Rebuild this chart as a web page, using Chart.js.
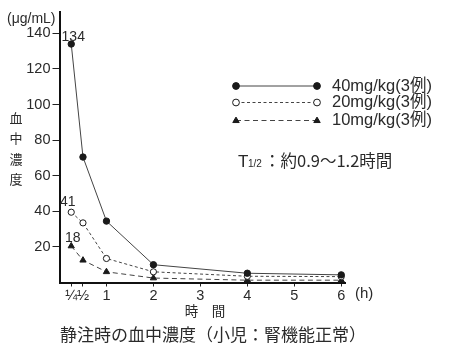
<!DOCTYPE html>
<html><head><meta charset="utf-8">
<script src="https://cdn.jsdelivr.net/npm/chart.js@4/dist/chart.umd.min.js"></script>
<style>html,body{margin:0;padding:0;background:#fff}#wrap{width:450px;height:356px;position:relative}</style>
</head><body><div id="wrap"><canvas id="c" width="450" height="356"></canvas></div>
<script>
const times = [0.25, 0.5, 1, 2, 4, 6];
const conc40 = [134, 70.5, 34.5, 10, 5.2, 4.3];
const conc20 = [39.5, 33.5, 13.5, 6, 3.5, 3.3];
const conc10 = [20.5, 12.5, 6, 2.5, 1.3, 1.3];
const xTickValues = [0.25, 0.5, 1, 2, 3, 4, 5, 6];
const xTickLabels = ['¼', '½', '1', '2', '3', '4', '5', '6'];
const yTickValues = [20, 40, 60, 80, 100, 120, 140];
const seriesNames = ['40mg/kg(3例)', '20mg/kg(3例)', '10mg/kg(3例)'];
const peakLabels = ['134', '41', '18'];

const SANS = '"Liberation Sans", Arial, "Noto Sans CJK JP", sans-serif';
const CJK = '"Noto Sans CJK JP", sans-serif';
const INK = '#2a2a2a';

function pts(vals){ return times.map((t,i)=>({x:t,y:vals[i]})); }

const styles = [
  {color:'#444', fill:'#1a1a1a', pointStyle:'circle', dash:[], r:3.2},
  {color:'#444', fill:'#fff', pointStyle:'circle', dash:[3,2.5], r:3.1},
  {color:'#444', fill:'#1a1a1a', pointStyle:'triangle', dash:[5,3.5], r:3.6}
];
const seriesVals = [conc40, conc20, conc10];

const datasets = seriesVals.map((v,i)=>({
  label: seriesNames[i],
  data: pts(v),
  borderColor: styles[i].color,
  borderWidth: 1,
  borderDash: styles[i].dash,
  pointStyle: styles[i].pointStyle,
  pointRadius: styles[i].r,
  pointBackgroundColor: styles[i].fill,
  pointBorderColor: '#1a1a1a',
  pointBorderWidth: 1,
  tension: 0
}));

function drawMarker(ctx, style, x, y, r){
  ctx.save();
  ctx.setLineDash([]);
  ctx.lineWidth = 1;
  ctx.strokeStyle = '#1a1a1a';
  ctx.fillStyle = style.fill;
  if (style.pointStyle === 'circle'){
    ctx.beginPath(); ctx.arc(x, y, r, 0, Math.PI*2); ctx.fill(); ctx.stroke();
  } else {
    ctx.beginPath();
    ctx.moveTo(x, y - r);
    ctx.lineTo(x + r*0.95, y + r*0.6);
    ctx.lineTo(x - r*0.95, y + r*0.6);
    ctx.closePath(); ctx.fill(); ctx.stroke();
  }
  ctx.restore();
}

const decor = {
  id: 'decor',
  afterDraw(chart){
    const ctx = chart.ctx;
    const xs = chart.scales.x, ys = chart.scales.y;
    ctx.save();
    ctx.fillStyle = INK;
    // unit
    ctx.font = '14px ' + SANS;
    ctx.textAlign = 'left'; ctx.textBaseline = 'middle';
    ctx.fillText('(μg/mL)', 7, 19);
    // y axis title, vertical
    ctx.font = '13px ' + CJK;
    ctx.textAlign = 'center';
    const yt = ['血','中','濃','度'];
    yt.forEach((ch,i)=>ctx.fillText(ch, 16, 118 + i*20.5));
    // x axis unit
    ctx.font = '15px ' + SANS;
    ctx.textAlign = 'left';
    ctx.fillText('(h)', 355, 294);
    // x axis title
    ctx.font = '13.5px ' + CJK;
    ctx.textAlign = 'center';
    ctx.fillText('時　間', 205, 311);
    // caption
    ctx.font = '17px ' + CJK;
    ctx.fillText('静注時の血中濃度（小児：腎機能正常）', 213, 335);
    // peak labels
    ctx.font = '14px ' + SANS;
    ctx.textBaseline = 'alphabetic';
    const offs = [[2,-3],[-3.5,-6],[1.5,-4]];
    seriesVals.forEach((v,i)=>{
      const px = xs.getPixelForValue(times[0]);
      const py = ys.getPixelForValue(v[0]);
      ctx.fillText(peakLabels[i], px + offs[i][0], py + offs[i][1]);
    });
    // legend
    const rows = [86, 102.5, 120.5];
    styles.forEach((s,i)=>{
      ctx.save();
      ctx.strokeStyle = s.color; ctx.lineWidth = 1;
      ctx.setLineDash(s.dash);
      ctx.beginPath(); ctx.moveTo(236, rows[i]); ctx.lineTo(317, rows[i]); ctx.stroke();
      ctx.restore();
      drawMarker(ctx, s, 236, rows[i], 3.4);
      drawMarker(ctx, s, 317, rows[i], 3.4);
      ctx.fillStyle = INK;
      ctx.font = '16.5px ' + SANS;
      ctx.textAlign = 'left'; ctx.textBaseline = 'middle';
      ctx.fillText(seriesNames[i], 332, rows[i]);
    });
    // half-life text
    ctx.fillStyle = INK;
    ctx.textAlign = 'left'; ctx.textBaseline = 'alphabetic';
    ctx.font = '17px ' + SANS;
    ctx.fillText('T', 238, 167);
    ctx.font = '10px ' + SANS;
    ctx.fillText('1/2', 248, 167);
    ctx.font = '16.5px ' + CJK;
    ctx.fillText('：約0.9～1.2時間', 264, 167);
    ctx.restore();
  }
};

new Chart(document.getElementById('c'), {
  type: 'line',
  data: { datasets },
  options: {
    responsive: false,
    animation: false,
    devicePixelRatio: 1,
    layout: { padding: { top: 12, right: 105, left: 0, bottom: 0 } },
    plugins: { legend: { display: false }, tooltip: { enabled: false } },
    scales: {
      x: {
        type: 'linear', min: 0, max: 6.08,
        afterFit(s){ s.height = 356 - 282.5; },
        afterBuildTicks(s){ s.ticks = xTickValues.map(v=>({value:v})); },
        ticks: {
          color: INK, font: { size: 14.5, family: SANS }, padding: 1, maxRotation: 0, autoSkip: false,
          callback(v){ const i = xTickValues.indexOf(v); return i >= 0 ? xTickLabels[i] : ''; }
        },
        grid: { drawOnChartArea: false, drawTicks: true, tickLength: 4, color: '#222', lineWidth: 1 },
        border: { display: true, color: '#111', width: 2 }
      },
      y: {
        type: 'linear', min: 0, max: 152,
        afterFit(s){ s.width = 59.5; },
        afterBuildTicks(s){ s.ticks = yTickValues.map(v=>({value:v})); },
        ticks: { color: INK, font: { size: 14.5, family: SANS }, padding: 2 },
        grid: { drawOnChartArea: false, drawTicks: true, tickLength: 7, color: '#222', lineWidth: 1 },
        border: { display: true, color: '#111', width: 2 }
      }
    }
  },
  plugins: [decor]
});
</script>
</body></html>
